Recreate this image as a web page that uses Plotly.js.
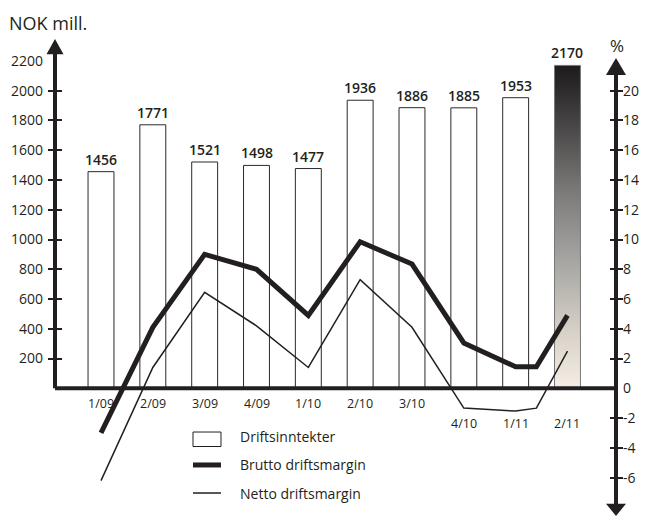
<!DOCTYPE html>
<html><head><meta charset="utf-8">
<script src="https://cdn.plot.ly/plotly-3.0.1.min.js"></script>
<style>html,body{margin:0;padding:0;background:#fff}#chart{width:645px;height:516px}</style>
</head><body><div id="chart"></div>
<script>
const categories = ['1/09','2/09','3/09','4/09','1/10','2/10','3/10','4/10','1/11','2/11'];
const revenue = [1456, 1771, 1521, 1498, 1477, 1936, 1886, 1885, 1953, 2170];
const lineX = [0, 1, 2, 3, 4, 5, 6, 7, 8, 8.4, 9];
const brutto = [-3, 4.1, 9.0, 8.0, 4.9, 9.85, 8.35, 3.05, 1.45, 1.45, 4.9];
const netto = [-6.2, 1.4, 6.45, 4.2, 1.4, 7.3, 4.1, -1.33, -1.53, -1.33, 2.5];
const leftTicks = [200, 400, 600, 800, 1000, 1200, 1400, 1600, 1800, 2000, 2200];
const rightTicks = [-6, -4, -2, 0, 2, 4, 6, 8, 10, 12, 14, 16, 18, 20];
const legendNames = ['Driftsinntekter', 'Brutto driftsmargin', 'Netto driftsmargin'];

const INK = '#231f20';
const FONT = '"Open Sans", "DejaVu Sans", sans-serif';
const xIdx = categories.map((_, i) => i);
const leftRange = [-858, 2408];
const rightRange = [-8.58, 24.08];

const traces = [
  {
    type: 'bar', x: xIdx, y: revenue, width: 0.5,
    marker: { color: revenue.map((_, i) => i === revenue.length - 1 ? '#888' : '#ffffff'),
              line: { color: '#2a2a2a', width: 1 } },
    showlegend: false, hoverinfo: 'skip'
  },
  {
    type: 'scatter', mode: 'lines', x: lineX, y: brutto, yaxis: 'y2',
    line: { color: INK, width: 5, shape: 'linear' }, showlegend: false, hoverinfo: 'skip', cliponaxis: false
  },
  {
    type: 'scatter', mode: 'lines', x: lineX, y: netto, yaxis: 'y2',
    line: { color: INK, width: 1.5, shape: 'linear' }, showlegend: false, hoverinfo: 'skip', cliponaxis: false
  }
];

const ann = [];
ann.push({ text: 'NOK mill.', xref: 'paper', yref: 'paper', x: -0.086, y: 1.0135, xanchor: 'left', yanchor: 'middle',
  showarrow: false, font: { family: FONT, size: 18, color: INK } });
ann.push({ text: '%', xref: 'paper', yref: 'paper', x: 1.001, y: 0.969, xanchor: 'center', yanchor: 'middle',
  showarrow: false, font: { family: FONT, size: 17, color: INK } });
revenue.forEach((v, i) => ann.push({ text: String(v), x: i, y: v, xref: 'x', yref: 'y', xanchor: 'center', yanchor: 'bottom',
  yshift: 1, showarrow: false, font: { family: FONT, size: 14, color: INK, weight: 600 } }));
categories.forEach((c, i) => ann.push({ text: c, x: i, y: 0, xref: 'x', yref: 'y', xanchor: 'center', yanchor: 'middle',
  yshift: i >= 7 ? -35 : -15, showarrow: false, font: { family: FONT, size: 12.5, color: INK } }));
const legY = [0.1626, 0.105, 0.0473];
legendNames.forEach((n, i) => ann.push({ text: n, xref: 'paper', yref: 'paper', x: 0.3262, y: legY[i], xanchor: 'left', yanchor: 'middle',
  showarrow: false, font: { family: FONT, size: 14, color: INK } }));

const lp = 8.5 / 561, rp = 10 / 561;
const shapes = [
  { type: 'line', xref: 'paper', yref: 'y', x0: 0, x1: 1, y0: 0, y1: 0, line: { color: INK, width: 4 } },
  { type: 'line', xref: 'paper', yref: 'y', x0: 0, x1: 0, y0: 0, y1: 2250, line: { color: INK, width: 4 } },
  { type: 'path', xref: 'paper', yref: 'y', path: `M ${-lp},2245 L ${lp},2245 L 0,2347 Z`, fillcolor: INK, line: { width: 0 } },
  { type: 'line', xref: 'paper', yref: 'y2', x0: 1, x1: 1, y0: -7.8, y1: 21.1, line: { color: INK, width: 4 } },
  { type: 'path', xref: 'paper', yref: 'y2', path: `M ${1 - rp},21.05 L ${1 + rp},21.05 L 1,22.2 Z`, fillcolor: INK, line: { width: 0 } },
  { type: 'path', xref: 'paper', yref: 'y2', path: `M ${1 - rp},-7.75 L ${1 + rp},-7.75 L 1,-8.58 Z`, fillcolor: INK, line: { width: 0 } },
  { type: 'rect', xref: 'paper', yref: 'paper', x0: 0.246, x1: 0.2959, y0: 0.143, y1: 0.1728, fillcolor: '#fff', line: { color: INK, width: 1 } },
  { type: 'line', xref: 'paper', yref: 'paper', x0: 0.246, x1: 0.2959, y0: 0.105, y1: 0.105, line: { color: INK, width: 5 } },
  { type: 'line', xref: 'paper', yref: 'paper', x0: 0.246, x1: 0.2959, y0: 0.0473, y1: 0.0473, line: { color: INK, width: 1.5 } }
];

const baseAxis = { showgrid: false, zeroline: false, showline: false, fixedrange: true };
const layout = {
  width: 645, height: 516,
  margin: { l: 55, r: 29, t: 30, b: 0, pad: 0 },
  paper_bgcolor: '#ffffff', plot_bgcolor: 'rgba(0,0,0,0)',
  showlegend: false, hovermode: false,
  font: { family: FONT, color: INK },
  xaxis: Object.assign({}, baseAxis, { range: [-0.8875, 9.936], showticklabels: false, ticks: '' }),
  yaxis: Object.assign({}, baseAxis, { range: leftRange, tickvals: leftTicks, ticktext: leftTicks.map(String), ticks: '',
    tickfont: { family: FONT, size: 14, color: INK }, ticklabelstandoff: 11 }),
  yaxis2: Object.assign({}, baseAxis, { range: rightRange, overlaying: 'y', side: 'right', tickvals: rightTicks,
    ticktext: rightTicks.map(String), ticks: '', tickfont: { family: FONT, size: 14, color: INK }, ticklabelstandoff: 6 }),
  yaxis3: Object.assign({}, baseAxis, { range: leftRange, overlaying: 'y', anchor: 'free', position: 7 / 561, side: 'left',
    tickvals: leftTicks.filter(v => v < 2200), ticks: 'outside', ticklen: 14, tickwidth: 2, tickcolor: INK, showticklabels: false }),
  yaxis4: Object.assign({}, baseAxis, { range: rightRange, overlaying: 'y', anchor: 'free', position: 1 - 7 / 561, side: 'right',
    tickvals: rightTicks.filter(v => v !== 0), ticks: 'outside', ticklen: 13, tickwidth: 2, tickcolor: INK, showticklabels: false }),
  shapes: shapes,
  annotations: ann
};

traces.push({ type: 'scatter', x: [0], y: [0], yaxis: 'y3', mode: 'none', showlegend: false, hoverinfo: 'skip' });
traces.push({ type: 'scatter', x: [0], y: [0], yaxis: 'y4', mode: 'none', showlegend: false, hoverinfo: 'skip' });

const gd = document.getElementById('chart');
Plotly.newPlot(gd, traces, layout, { staticPlot: true, displayModeBar: false }).then(() => {
  const svg = gd.querySelector('svg.main-svg');
  const defs = svg.querySelector('defs');
  const ns = 'http://www.w3.org/2000/svg';
  const grad = document.createElementNS(ns, 'linearGradient');
  grad.setAttribute('id', 'lastBarGrad');
  grad.setAttribute('x1', '0'); grad.setAttribute('y1', '0'); grad.setAttribute('x2', '0'); grad.setAttribute('y2', '1');
  [[0, '#1e1b1c'], [0.08, '#2e2c2c'], [0.4, '#7d7c7b'], [0.62, '#a9a8a5'], [0.82, '#d6d0c6'], [1, '#f5eee4']].forEach(([o, c]) => {
    const s = document.createElementNS(ns, 'stop');
    s.setAttribute('offset', o); s.setAttribute('stop-color', c);
    grad.appendChild(s);
  });
  defs.appendChild(grad);
  const paths = gd.querySelectorAll('.barlayer .point path');
  const last = paths[paths.length - 1];
  if (last) { last.style.fill = 'url(#lastBarGrad)'; last.style.stroke = '#777'; }
});
</script>
</body></html>
